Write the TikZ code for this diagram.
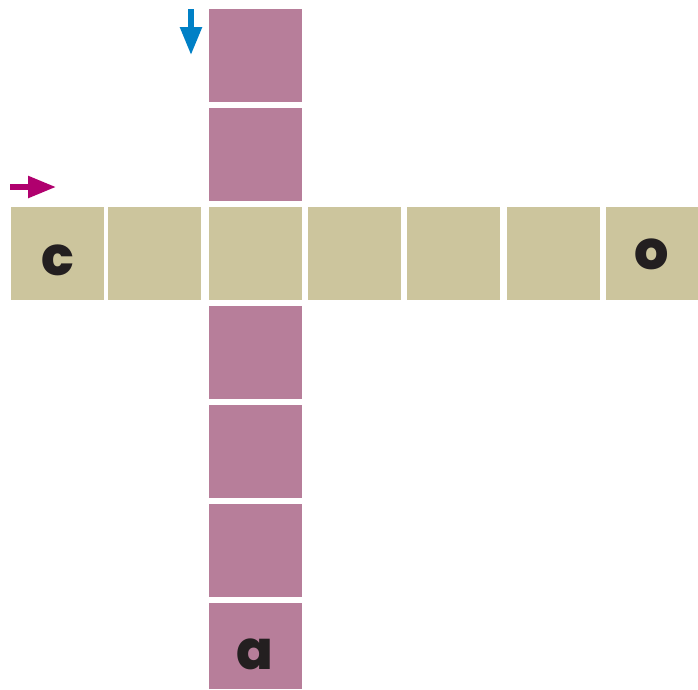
\documentclass[tikz,border=0pt]{standalone}
\usepackage{fontspec}
\newfontfamily\cellfont{Poppins}[BoldFont={* ExtraBold}]
\usetikzlibrary{arrows.meta}
\definecolor{CellPink}{HTML}{B77E9A}
\definecolor{CellTan}{HTML}{CCC59D}
\definecolor{ArrowBlue}{HTML}{0080C6}
\definecolor{ArrowMagenta}{HTML}{B0006E}
\definecolor{LetterInk}{HTML}{231F20}
\newcommand\cellletter[2]{\raisebox{-#1pt}[0pt][0pt]{#2}}
\begin{document}
\begin{tikzpicture}[x=1pt, y=-1pt,
  cell/.style={inner sep=0pt, minimum width=93pt, minimum height=93pt, font=\cellfont\bfseries\fontsize{54}{54}\selectfont, text=LetterInk},
  tancell/.style={cell, fill=CellTan},
  pinkcell/.style={cell, fill=CellPink},
  cuearrow/.style={-{Triangle[length=28pt, width=21pt]}, line width=5.5pt}
]
\useasboundingbox (0,0) rectangle (698,689);

% across
\node[tancell] (a1) at (57.5,253.5) {\cellletter{21.5}{c}};
\node[tancell] (a2) at (154.5,253.5) {};
\node[tancell] (a3) at (255,253.5) {};
\node[tancell] (a4) at (354.5,253.5) {};
\node[tancell] (a5) at (453.5,253.5) {};
\node[tancell] (a6) at (553.5,253.5) {};
\node[tancell] (a7) at (652,253.5) {\cellletter{15.5}{o}};

% down
\node[pinkcell] (d1) at (255,55.5) {};
\node[pinkcell] (d2) at (255,154.5) {};
\node[pinkcell] (d4) at (255,352.5) {};
\node[pinkcell] (d5) at (255,451.5) {};
\node[pinkcell] (d6) at (255,550.5) {};
\node[pinkcell, minimum height=86pt] (d7) at (255,646) {\cellletter{23}{a}};

% cues
\coordinate (downstart) at (191,9);
\coordinate (downend) at (191,55);
\coordinate (acrossstart) at (10,187);
\coordinate (acrossend) at (56,187);
\draw[cuearrow, draw=ArrowBlue] (downstart) -- (downend);
\draw[cuearrow, draw=ArrowMagenta] (acrossstart) -- (acrossend);
\end{tikzpicture}
\end{document}
